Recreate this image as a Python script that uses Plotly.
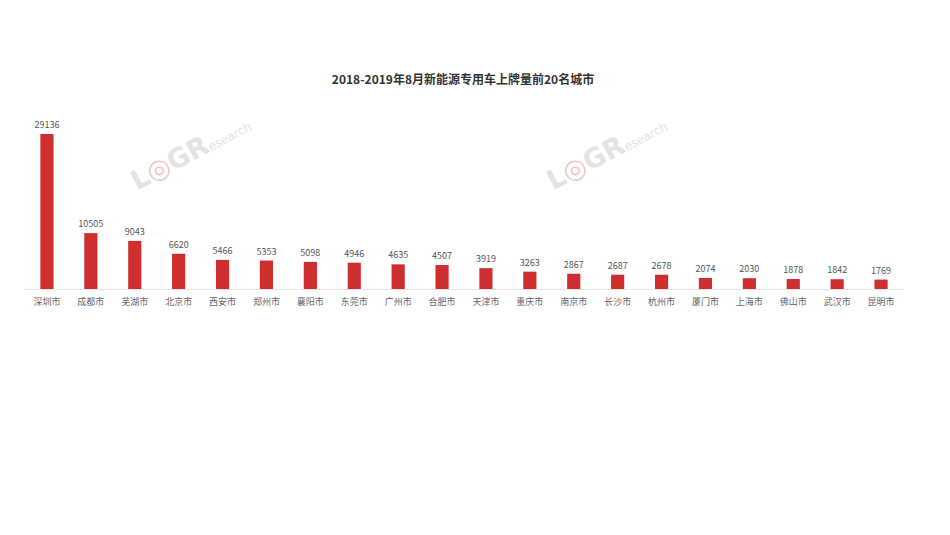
import plotly.graph_objects as go

cities = ["深圳市", "成都市", "芜湖市", "北京市", "西安市", "郑州市", "襄阳市", "东莞市", "广州市", "合肥市",
          "天津市", "重庆市", "南京市", "长沙市", "杭州市", "厦门市", "上海市", "佛山市", "武汉市", "昆明市"]
values = [29136, 10505, 9043, 6620, 5466, 5353, 5098, 4946, 4635, 4507,
          3919, 3263, 2867, 2687, 2678, 2074, 2030, 1878, 1842, 1769]
title_text = "2018-2019年8月新能源专用车上牌量前20名城市"

font_family = "Noto Sans CJK SC, Noto Sans, sans-serif"
OFF = 8  # page body margin offset

fig = go.Figure()
fig.add_trace(go.Bar(
    x=cities, y=values,
    marker=dict(color="#cf2e2e", line=dict(width=0)),
    text=[str(v) for v in values],
    textposition="outside",
    constraintext="none",
    textfont=dict(size=9, color="#555555", family=font_family),
    cliponaxis=False,
))

wm = ("<b>L<span style='color:#f1c6c6'>◎</span>GR</b>"
      "<span style='font-size:12px'>esearch</span>")
for (wx, wy) in [(187, 133), (637, 133)]:
    fig.add_annotation(
        x=(wx - OFF) / 950, y=1 - (wy - OFF) / 535, xref="paper", yref="paper",
        text=wm, showarrow=False, textangle=-28,
        font=dict(size=27, color="#e3e3e3", family="DejaVu Sans, sans-serif"),
        xanchor="center", yanchor="middle",
    )

fig.update_layout(
    width=950, height=535,
    margin=dict(l=25 - OFF, r=47 + OFF, t=110 - OFF, b=246 + OFF),
    paper_bgcolor="white", plot_bgcolor="white",
    bargap=0.70,
    showlegend=False,
    title=dict(text="<b>" + title_text + "</b>", x=(463 - OFF) / 950, xanchor="center",
               y=1 - (80 - OFF) / 535, yanchor="middle",
               font=dict(size=12, color="#333333", family=font_family)),
    xaxis=dict(showline=True, linecolor="#e6e6e6", linewidth=1, ticks="",
               ticklabelstandoff=4,
               tickfont=dict(size=9, color="#666666", family=font_family),
               showgrid=False, zeroline=False, tickangle=0),
    yaxis=dict(visible=False, range=[0, 33650], showgrid=False, zeroline=False),
)

fig.write_html("out.html")
